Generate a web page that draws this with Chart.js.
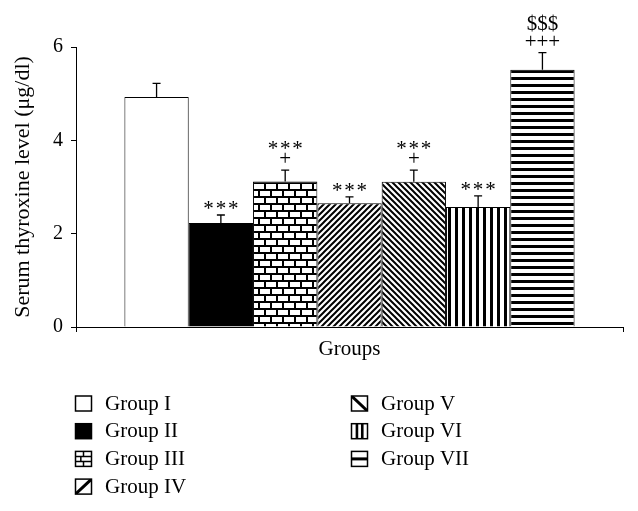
<!DOCTYPE html>
<html>
<head>
<meta charset="utf-8">
<script src="https://cdn.jsdelivr.net/npm/chart.js@4.4.0/dist/chart.umd.min.js"></script>
<style>
    html, body { margin: 0; padding: 0; background: #fff; }
    #wrap { width: 638px; height: 511px; }
</style>
</head>
<body>
<div id="wrap"><canvas id="chart"></canvas></div>
<script>
const groupNames = ['Group I', 'Group II', 'Group III', 'Group IV', 'Group V', 'Group VI', 'Group VII'];
const thyroxine = [4.93, 2.23, 3.12, 2.65, 3.11, 2.57, 5.51];
const thyroxineSE = [0.29, 0.17, 0.24, 0.14, 0.25, 0.24, 0.37];
const marksLower = ['', '***', '+', '***', '+', '***', '+++'];
const marksUpper = ['', '', '***', '', '***', '', '$$$'];
const yTicks = [0, 2, 4, 6];
const fills = ['plain', 'solid', 'brick', 'diagUp', 'diagDown', 'vertical', 'horizontal'];

const FONT = "'Liberation Serif', 'DejaVu Serif', serif";

function makePattern(kind) {
    if (kind === 'plain') return '#fff';
    if (kind === 'solid') return '#000';
    const c = document.createElement('canvas');
    const g = c.getContext('2d');
    if (kind === 'brick') {
        c.width = 12; c.height = 14;
        g.fillStyle = '#fff'; g.fillRect(0, 0, 12, 14);
        g.fillStyle = '#000';
        g.fillRect(0, 0, 12, 2);
        g.fillRect(0, 7, 12, 2);
        g.fillRect(0, 0, 2, 7);
        g.fillRect(6, 7, 2, 7);
    } else if (kind === 'diagUp' || kind === 'diagDown') {
        c.width = 6; c.height = 6;
        g.fillStyle = '#fff'; g.fillRect(0, 0, 6, 6);
        g.strokeStyle = '#000'; g.lineWidth = 2;
        g.beginPath();
        if (kind === 'diagUp') {
            g.moveTo(-1, 7); g.lineTo(7, -1);
            g.moveTo(-1, 1); g.lineTo(1, -1);
            g.moveTo(5, 7); g.lineTo(7, 5);
        } else {
            g.moveTo(-1, -1); g.lineTo(7, 7);
            g.moveTo(-1, 5); g.lineTo(1, 7);
            g.moveTo(5, -1); g.lineTo(7, 1);
        }
        g.stroke();
    } else if (kind === 'vertical') {
        c.width = 7; c.height = 7;
        g.fillStyle = '#fff'; g.fillRect(0, 0, 7, 7);
        g.fillStyle = '#000'; g.fillRect(0, 0, 3, 7);
    } else if (kind === 'horizontal') {
        c.width = 7; c.height = 7;
        g.fillStyle = '#fff'; g.fillRect(0, 0, 7, 7);
        g.fillStyle = '#000'; g.fillRect(0, 0, 7, 3);
    }
    return g.createPattern(c, 'repeat');
}

function drawLegendIcon(ctx, kind, x, y, w, h) {
    ctx.save();
    ctx.fillStyle = kind === 'solid' ? '#000' : '#fff';
    ctx.fillRect(x, y, w, h);
    ctx.beginPath();
    ctx.rect(x, y, w, h);
    ctx.clip();
    ctx.strokeStyle = '#000';
    ctx.fillStyle = '#000';
    if (kind === 'brick') {
        ctx.lineWidth = 1.5;
        ctx.beginPath();
        ctx.moveTo(x, y + h / 3); ctx.lineTo(x + w, y + h / 3);
        ctx.moveTo(x, y + 2 * h / 3); ctx.lineTo(x + w, y + 2 * h / 3);
        ctx.moveTo(x + w / 2, y); ctx.lineTo(x + w / 2, y + h / 3);
        ctx.moveTo(x + w / 3, y + h / 3); ctx.lineTo(x + w / 3, y + 2 * h / 3);
        ctx.moveTo(x + w / 2, y + 2 * h / 3); ctx.lineTo(x + w / 2, y + h);
        ctx.stroke();
    } else if (kind === 'diagUp') {
        ctx.lineWidth = 3;
        ctx.beginPath(); ctx.moveTo(x, y + h); ctx.lineTo(x + w, y); ctx.stroke();
    } else if (kind === 'diagDown') {
        ctx.lineWidth = 3;
        ctx.beginPath(); ctx.moveTo(x, y); ctx.lineTo(x + w, y + h); ctx.stroke();
    } else if (kind === 'vertical') {
        ctx.fillRect(x + w / 3 - 1.2, y, 2.6, h);
        ctx.fillRect(x + 2 * w / 3 - 1.2, y, 2.6, h);
    } else if (kind === 'horizontal') {
        ctx.fillRect(x, y + h / 2 - 1.5, w, 3);
    }
    ctx.restore();
    ctx.strokeStyle = '#000';
    ctx.lineWidth = 1.5;
    ctx.strokeRect(x, y, w, h);
}

// baseline shift so each glyph row is centred on the wanted y
const glyphShift = { '***': 11, '+': 6, '+++': 6, '$$$': 7 };

const errorBarsPlugin = {
    id: 'errorBars',
    afterDatasetsDraw(chart) {
        const ctx = chart.ctx;
        const yScale = chart.scales.y;
        ctx.save();
        chart.data.datasets.forEach((ds, i) => {
            const bar = chart.getDatasetMeta(i).data[0];
            const top = yScale.getPixelForValue(ds.data[0] + thyroxineSE[i]);
            ctx.strokeStyle = '#000';
            ctx.lineWidth = 1.3;
            ctx.beginPath();
            ctx.moveTo(bar.x, bar.y);
            ctx.lineTo(bar.x, top);
            ctx.moveTo(bar.x - 4, top);
            ctx.lineTo(bar.x + 4, top);
            ctx.stroke();

            ctx.fillStyle = '#000';
            ctx.textAlign = 'center';
            ctx.textBaseline = 'alphabetic';
            ctx.font = '21px ' + FONT;
            const drawMark = (text, cy) => {
                if (!text) return;
                const shown = text === '***' ? '*\u200a*\u200a*' : text;
                ctx.fillText(shown, bar.x, cy + glyphShift[text]);
            };
            drawMark(marksLower[i], top - 11);
            drawMark(marksUpper[i], top - (marksUpper[i] === '$$$' ? 30 : 26));
        });
        ctx.restore();
    }
};

const sideLegendPlugin = {
    id: 'sideLegend',
    afterDraw(chart) {
        const ctx = chart.ctx;
        const cols = [75, 351];
        const rowTop = 403;
        const rowGap = 27.7;
        ctx.save();
        ctx.font = '21px ' + FONT;
        ctx.textBaseline = 'middle';
        ctx.textAlign = 'left';
        groupNames.forEach((name, i) => {
            const col = i < 4 ? 0 : 1;
            const row = i < 4 ? i : i - 4;
            const x = cols[col];
            const cy = rowTop + row * rowGap;
            drawLegendIcon(ctx, fills[i], x + 0.5, cy - 7, 16, 15);
            ctx.fillStyle = '#000';
            ctx.fillText(name, x + 30, cy + 1);
        });
        ctx.restore();
    }
};

function main() {
    const datasets = groupNames.map((name, i) => ({
        label: name,
        data: [thyroxine[i]],
        backgroundColor: makePattern(fills[i]),
        borderColor: '#000',
        borderWidth: 1,
        categoryPercentage: 0.823,
        barPercentage: 1,
    }));

    new Chart(document.getElementById('chart'), {
        type: 'bar',
        data: { labels: [''], datasets: datasets },
        options: {
            responsive: true,
            maintainAspectRatio: false,
            animation: false,
            events: [],
            layout: { padding: { top: 47, right: 15, bottom: 151, left: 0 } },
            plugins: { legend: { display: false }, tooltip: { enabled: false } },
            scales: {
                x: {
                    type: 'category',
                    offset: true,
                    afterFit(scale) { scale.height = 33; },
                    grid: { display: true, drawOnChartArea: false, drawTicks: true, tickLength: 5, color: '#000', offset: true },
                    border: { display: true, color: '#000', width: 1 },
                    ticks: { display: false },
                    title: { display: true, text: 'Groups', color: '#000', font: { family: FONT, size: 21 }, padding: { top: 0, bottom: -2 } },
                },
                y: {
                    min: 0,
                    max: 6,
                    afterFit(scale) { scale.width = 76; },
                    afterBuildTicks(scale) { scale.ticks = yTicks.map(v => ({ value: v })); },
                    grid: { display: true, drawOnChartArea: false, drawTicks: true, tickLength: 5, color: '#000' },
                    border: { display: true, color: '#000', width: 1 },
                    ticks: { color: '#000', padding: 8, font: { family: FONT, size: 20 } },
                    title: { display: true, text: 'Serum thyroxine level (μg/dl)', color: '#000', font: { family: FONT, size: 22 }, padding: { top: 10, bottom: 0 } },
                }
            }
        },
        plugins: [errorBarsPlugin, sideLegendPlugin]
    });
}

main();
</script>
</body>
</html>
